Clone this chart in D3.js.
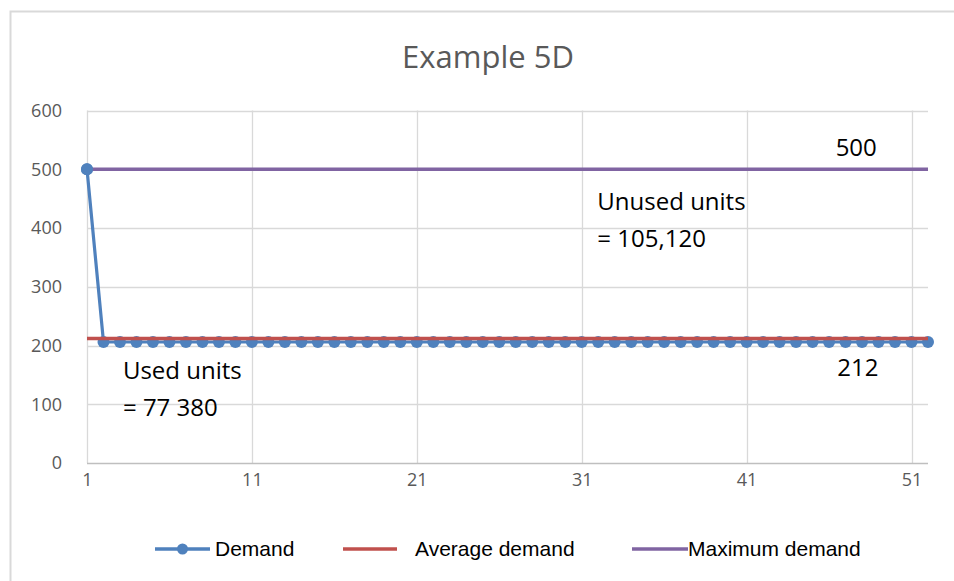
<!DOCTYPE html>
<html><head><meta charset="utf-8">
<script src="https://cdn.jsdelivr.net/npm/d3@7"></script>
<style>body{margin:0;background:#fff}svg{display:block}</style>
</head><body>
<svg id="c" width="954" height="581"></svg>
<script>
const weeks = d3.range(1, 53);
const demand = [500, 206,206,206,206,206,206,206,206,206,206,206,206,206,206,206,206,206,206,206,206,206,206,206,206,206,206,206,206,206,206,206,206,206,206,206,206,206,206,206,206,206,206,206,206,206,206,206,206,206,206,206];
const averageDemand = 212;
const maximumDemand = 500;
const yTicks = [0,100,200,300,400,500,600];
const xTicks = [1,11,21,31,41,51];
const seriesNames = ["Demand","Average demand","Maximum demand"];
const colors = ["#4f81bd","#c0504d","#8064a2"];
const annotations = [
  {lines:["Unused units","= 105,120"], x:31.95, y:431},
  {lines:["Used units","= 77 380"], x:3.18, y:143},
  {lines:["500"], x:46.4, y:523},
  {lines:["212"], x:46.5, y:148}
];

const svg = d3.select("#c");
svg.append("rect").attr("x",10.5).attr("y",11.5).attr("width",960).attr("height",600)
  .attr("fill","#fff").attr("stroke","#d9d9d9").attr("stroke-width",2);

const x = d3.scaleLinear().domain([1,52]).range([87,928]);
const y = d3.scaleLinear().domain([0,600]).range([463,110.5]);

svg.append("text").attr("x",488).attr("y",68).attr("text-anchor","middle")
  .attr("font-family","Open Sans").attr("font-size",31).attr("fill","#595959").text("Example 5D");

const g = svg.append("g");
g.selectAll("line.hg").data(yTicks.filter(d=>d>0)).join("line")
  .attr("x1",x(1)).attr("x2",x(52)).attr("y1",d=>Math.round(y(d))+0.5).attr("y2",d=>Math.round(y(d))+0.5)
  .attr("stroke","#d9d9d9").attr("stroke-width",1.3);
g.selectAll("line.vg").data(xTicks).join("line")
  .attr("x1",d=>Math.round(x(d))+0.5).attr("x2",d=>Math.round(x(d))+0.5).attr("y1",y(600)).attr("y2",y(0))
  .attr("stroke","#d9d9d9").attr("stroke-width",1.3);
g.append("line").attr("x1",x(1)).attr("x2",x(52)).attr("y1",y(0)+0.5).attr("y2",y(0)+0.5)
  .attr("stroke","#bfbfbf").attr("stroke-width",1.5);

const yAxis = d3.axisLeft(y).tickValues(yTicks).tickSize(0).tickPadding(0);
const ya = svg.append("g").attr("transform","translate(62,0)").call(yAxis);
ya.select(".domain").remove();
ya.selectAll("text").attr("font-family","Open Sans").attr("font-size",18).attr("fill","#595959");
const xAxis = d3.axisBottom(x).tickValues(xTicks).tickSize(0).tickPadding(0).tickFormat(d3.format("d"));
const xa = svg.append("g").attr("transform","translate(0,473)").call(xAxis);
xa.select(".domain").remove();
xa.selectAll("text").attr("font-family","Open Sans").attr("font-size",18).attr("fill","#595959");

const line = d3.line().x((d,i)=>x(weeks[i])).y(d=>y(d));
g.append("path").datum(demand).attr("d",line).attr("fill","none").attr("stroke",colors[0]).attr("stroke-width",3.2);
g.selectAll("circle.pt").data(demand).join("circle").attr("class","pt")
  .attr("cx",(d,i)=>x(weeks[i])).attr("cy",d=>y(d)).attr("r",6).attr("fill",colors[0]);
g.append("line").attr("x1",x(1)).attr("x2",x(52)).attr("y1",y(averageDemand)).attr("y2",y(averageDemand))
  .attr("stroke",colors[1]).attr("stroke-width",3.5);
g.append("line").attr("x1",x(1)).attr("x2",x(52)).attr("y1",y(maximumDemand)).attr("y2",y(maximumDemand))
  .attr("stroke",colors[2]).attr("stroke-width",3.5);
g.append("circle").attr("cx",x(weeks[0])).attr("cy",y(demand[0])).attr("r",6).attr("fill",colors[0]);

annotations.forEach(a=>{
  const t = svg.append("text").attr("font-family","Open Sans").attr("font-size",24).attr("fill","#000");
  a.lines.forEach((l,i)=>t.append("tspan").attr("x",x(a.x)).attr("y",y(a.y)+i*37).text(l));
});

const legend = [
  {name:seriesNames[0], c:colors[0], x1:155, x2:210, tx:215, marker:true},
  {name:seriesNames[1], c:colors[1], x1:343, x2:397, tx:415, marker:false},
  {name:seriesNames[2], c:colors[2], x1:632, x2:688, tx:688, marker:false}
];
const lg = svg.append("g");
legend.forEach(l=>{
  lg.append("line").attr("x1",l.x1).attr("x2",l.x2).attr("y1",549).attr("y2",549).attr("stroke",l.c).attr("stroke-width",3.5);
  if(l.marker) lg.append("circle").attr("cx",(l.x1+l.x2)/2).attr("cy",549).attr("r",5.5).attr("fill",l.c);
  lg.append("text").attr("x",l.tx).attr("y",556).attr("font-family","Liberation Sans").attr("font-size",21).attr("fill","#000").text(l.name);
});
</script>
</body></html>
